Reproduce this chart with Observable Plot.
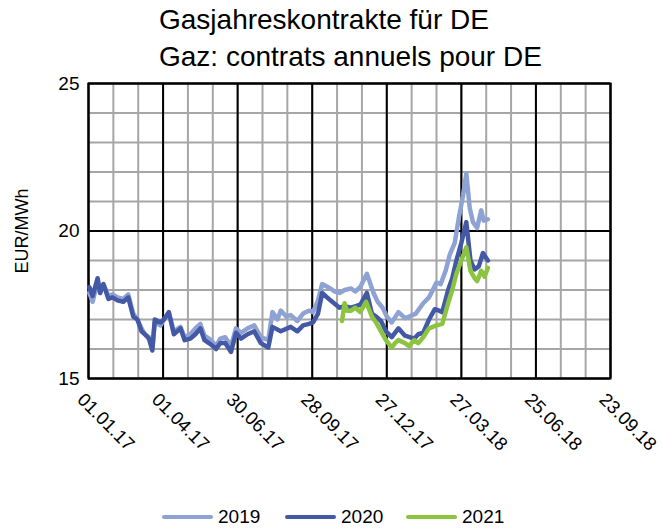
<!DOCTYPE html>
<html><head><meta charset="utf-8">
<script src="https://cdn.jsdelivr.net/npm/d3@7"></script>
<script src="https://cdn.jsdelivr.net/npm/@observablehq/plot@0.6"></script>
<style>
body{margin:0;background:#fff;font-family:"Liberation Sans",Arial,sans-serif;}
#wrap{position:relative;width:663px;height:528px;overflow:hidden;background:#fff}
#title{position:absolute;left:159px;top:1px;font-size:28px;line-height:37px;color:#000;white-space:nowrap}
#chart{position:absolute;left:0;top:0}
.li{position:absolute;top:505px;height:24px;display:flex;align-items:center;font-size:19px;color:#000}
.sw{width:51px;height:4px;border-radius:2px;margin-right:5px}
</style></head>
<body><div id="wrap"><div id="chart"></div>
<div id="title">Gasjahreskontrakte für DE<br>Gaz: contrats annuels pour DE</div>
<div id="legend"></div></div>
<script>
const seriesNames = ["2019", "2020", "2021"];
const seriesColors = ["#8EA3D4", "#4459A5", "#8CC43F"];
const xTickDates = ["2017-01-01","2017-04-01","2017-06-30","2017-09-28","2017-12-27","2018-03-27","2018-06-25","2018-09-23"];
const yTicks = [15, 20, 25];

const dates2019 = ["2017-01-02","2017-01-06","2017-01-12","2017-01-15","2017-01-19","2017-01-25","2017-01-30","2017-02-05","2017-02-12","2017-02-18","2017-02-24","2017-03-01","2017-03-06","2017-03-10","2017-03-15","2017-03-19","2017-03-22","2017-03-29","2017-04-02","2017-04-08","2017-04-14","2017-04-22","2017-04-27","2017-05-04","2017-05-10","2017-05-16","2017-05-21","2017-05-29","2017-06-04","2017-06-09","2017-06-15","2017-06-22","2017-06-28","2017-07-04","2017-07-12","2017-07-20","2017-07-28","2017-08-06","2017-08-11","2017-08-17","2017-08-21","2017-08-28","2017-09-02","2017-09-10","2017-09-17","2017-09-24","2017-09-29","2017-10-05","2017-10-10","2017-10-20","2017-10-25","2017-10-31","2017-11-06","2017-11-14","2017-11-19","2017-11-25","2017-12-03","2017-12-11","2017-12-16","2017-12-22","2017-12-27","2018-01-02","2018-01-10","2018-01-18","2018-01-23","2018-01-31","2018-02-09","2018-02-16","2018-02-25","2018-03-02","2018-03-08","2018-03-13","2018-03-19","2018-03-24","2018-03-29","2018-04-02","2018-04-06","2018-04-10","2018-04-15","2018-04-20","2018-04-23","2018-04-28"];
const values2019 = [17.9,17.6,18.3,17.9,18.2,17.8,17.85,17.75,17.7,17.85,17.2,17.0,16.7,16.5,16.4,16.0,16.9,16.8,17.0,17.2,16.6,16.75,16.4,16.5,16.7,16.85,16.45,16.3,16.1,16.35,16.4,16.1,16.7,16.55,16.7,16.8,16.4,16.3,17.25,17.0,17.3,17.1,17.15,16.95,17.2,17.3,17.25,17.65,18.2,18.05,17.95,17.9,18.0,18.05,17.95,18.1,18.55,17.9,17.6,17.4,17.1,16.9,17.25,17.05,17.1,17.2,17.55,17.75,18.25,18.2,18.65,19.2,19.6,20.45,21.2,21.95,20.8,20.3,20.1,20.7,20.35,20.4];

const dates2020 = ["2017-01-02","2017-01-06","2017-01-12","2017-01-15","2017-01-19","2017-01-25","2017-01-30","2017-02-05","2017-02-12","2017-02-18","2017-02-24","2017-03-01","2017-03-06","2017-03-10","2017-03-15","2017-03-19","2017-03-22","2017-03-29","2017-04-02","2017-04-08","2017-04-14","2017-04-22","2017-04-27","2017-05-04","2017-05-10","2017-05-16","2017-05-21","2017-05-29","2017-06-04","2017-06-09","2017-06-15","2017-06-22","2017-06-28","2017-07-04","2017-07-12","2017-07-20","2017-07-28","2017-08-06","2017-08-11","2017-08-21","2017-09-02","2017-09-10","2017-09-17","2017-09-24","2017-09-29","2017-10-05","2017-10-10","2017-10-20","2017-10-31","2017-11-06","2017-11-14","2017-11-25","2017-12-03","2017-12-09","2017-12-14","2017-12-20","2017-12-26","2018-01-02","2018-01-10","2018-01-18","2018-01-29","2018-02-03","2018-02-09","2018-02-16","2018-02-23","2018-02-28","2018-03-04","2018-03-11","2018-03-16","2018-03-21","2018-03-27","2018-04-02","2018-04-07","2018-04-12","2018-04-17","2018-04-22","2018-04-28"];
const values2020 = [18.1,17.8,18.4,17.9,18.2,17.7,17.75,17.65,17.6,17.75,17.1,17.0,16.6,16.5,16.35,15.95,17.0,16.9,17.0,17.25,16.5,16.7,16.3,16.35,16.5,16.7,16.3,16.15,16.0,16.2,16.2,15.9,16.55,16.35,16.5,16.6,16.2,16.05,16.75,16.6,16.75,16.6,16.8,16.85,16.9,17.2,17.9,17.65,17.4,17.45,17.4,17.5,17.9,17.2,17.1,16.95,16.6,16.4,16.7,16.45,16.35,16.5,16.55,17.0,17.35,17.3,17.25,18.0,18.4,19.0,19.6,20.3,19.0,18.7,18.8,19.25,19.0];

const dates2021 = ["2017-11-03","2017-11-06","2017-11-09","2017-11-14","2017-11-19","2017-11-25","2017-12-02","2017-12-09","2017-12-14","2017-12-20","2017-12-26","2018-01-02","2018-01-06","2018-01-10","2018-01-18","2018-01-23","2018-01-29","2018-02-03","2018-02-09","2018-02-16","2018-02-25","2018-03-04","2018-03-11","2018-03-16","2018-03-21","2018-03-27","2018-04-02","2018-04-07","2018-04-12","2018-04-15","2018-04-20","2018-04-24","2018-04-28"];
const values2021 = [16.95,17.55,17.3,17.3,17.4,17.25,17.6,17.1,16.9,16.6,16.3,16.05,16.2,16.3,16.2,16.1,16.3,16.2,16.4,16.7,16.8,16.85,17.55,18.0,18.55,19.0,19.45,18.65,18.4,18.3,18.65,18.45,18.75];

const parse = d3.utcParse("%Y-%m-%d");
const rows = [];
[[dates2019, values2019], [dates2020, values2020], [dates2021, values2021]].forEach(([ds, vs], i) => {
  ds.forEach((d, j) => rows.push({series: seriesNames[i], date: parse(d), value: vs[j]}));
});
const majorX = xTickDates.map(parse);
const x0 = majorX[0], x1 = majorX[majorX.length - 1];
const minorX = d3.range(0, 631, 30).map(k => d3.utcDay.offset(x0, k));
const minorY = d3.range(15, 25.01, 1);

const chart = Plot.plot({
  width: 663, height: 490,
  marginLeft: 88, marginRight: 53, marginTop: 83, marginBottom: 112,
  style: {fontFamily: '"Liberation Sans", Arial, sans-serif', background: "white"},
  x: {type: "utc", domain: [x0, x1], axis: null},
  y: {domain: [15, 25], axis: null},
  color: {domain: seriesNames, range: seriesColors},
  marks: [
    Plot.ruleX(minorX, {stroke: "#A6A6A6", strokeWidth: 2}),
    Plot.ruleY(minorY, {stroke: "#A6A6A6", strokeWidth: 2}),
    Plot.ruleX(majorX, {stroke: "#000", strokeWidth: 2}),
    Plot.ruleY(yTicks, {stroke: "#000", strokeWidth: 2}),
    Plot.frame({stroke: "#000", strokeWidth: 2}),
    Plot.line(rows, {x: "date", y: "value", z: "series", stroke: "series", strokeWidth: 4.5, strokeLinejoin: "round", strokeLinecap: "round"}),
    Plot.text(yTicks, {y: d => d, frameAnchor: "left", dx: -9, textAnchor: "end", fontSize: 19, fill: "#000", text: d => String(d)}),
    Plot.text(majorX, {x: d => d, frameAnchor: "bottom", dy: 13, dx: -3, rotate: 45, textAnchor: "start", lineAnchor: "top", fontSize: 18.5, fill: "#000", text: d => d3.utcFormat("%d.%m.%y")(d)}),
    Plot.text(["EUR/MWh"], {frameAnchor: "left", dx: -66, rotate: -90, textAnchor: "middle", fontSize: 18, fill: "#000"})
  ]
});
document.getElementById("chart").appendChild(chart);

const legendLefts = [162, 285, 406];
const legend = document.getElementById("legend");
seriesNames.forEach((n, i) => {
  const el = document.createElement("div");
  el.className = "li";
  el.style.left = legendLefts[i] + "px";
  el.innerHTML = `<span class="sw" style="background:${seriesColors[i]}"></span><span>${n}</span>`;
  legend.appendChild(el);
});
</script></body></html>
